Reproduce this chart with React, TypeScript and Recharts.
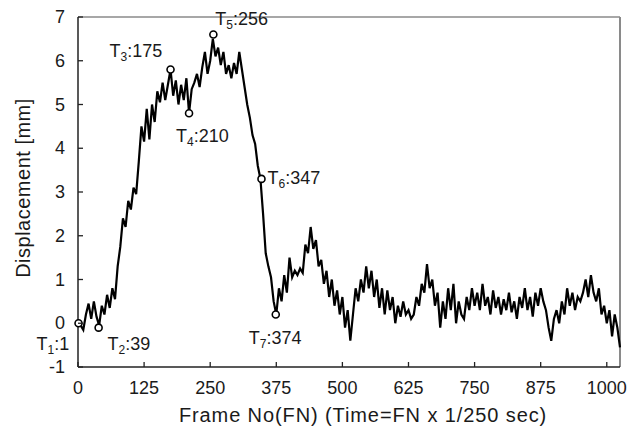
import React from "react";
import {
  ComposedChart,
  Line,
  Scatter,
  XAxis,
  YAxis,
  ReferenceLine,
  Label,
} from "recharts";

// one sample every 5 frames
const FRAME_STEP = 5;
const displacement = [
  0.0, -0.05, -0.15, 0.2, 0.45, 0.1, 0.5, 0.15, -0.05, 0.4,
  0.2, 0.65, 0.35, 0.8, 0.55, 1.3, 1.75, 2.4, 2.2, 2.8,
  2.6, 3.1, 2.95, 3.7, 4.5, 4.15, 4.9, 4.2, 5.0, 4.6,
  5.3, 5.05, 5.5, 5.1, 5.45, 5.8, 5.2, 5.55, 5.0, 5.45,
  5.1, 5.6, 4.8, 5.35, 5.5, 5.7, 5.4, 5.85, 6.2, 5.7,
  6.0, 6.5, 6.1, 6.3, 5.9, 6.2, 5.7, 5.9, 5.6, 5.95,
  5.7, 6.2, 5.8, 5.4, 5.0, 4.7, 4.3, 4.1, 3.6, 3.3,
  2.5, 1.6, 1.3, 1.05, 0.5, 0.2, 0.8, 0.5, 1.1, 0.7,
  1.5, 1.05, 1.2, 1.1, 1.25, 1.15, 1.8, 1.6, 2.2, 1.7,
  1.9, 1.3, 1.45, 0.9, 1.2, 0.6, 1.0, 0.4, 0.75, 0.2,
  0.6, -0.1, 0.3, -0.4, 0.2, 0.8, 0.5, 1.0, 0.7, 1.3,
  0.8, 1.2, 0.6, 1.0, 0.35, 0.8, 0.2, 0.75, 0.3, 0.6,
  0.0, 0.4, 0.15, 0.5, 0.2, 0.3, 0.1, 0.2, 0.6, 0.4,
  0.9, 0.7, 1.35, 0.8, 1.0, 0.4, 0.7, -0.1, 0.5, 0.1,
  0.8, 0.3, 0.9, 0.0, 0.5, 0.2, 0.1, 0.6, 0.3, 0.8,
  0.4, 0.7, 0.3, 0.9, 0.4, 0.6, 0.2, 0.75, 0.35, 0.6,
  0.2, 0.55, 0.3, 0.7, 0.25, 0.5, 0.1, 0.6, 0.35, 0.8,
  0.3, 0.6, 0.15, 0.7, 0.4, 0.8, 0.5, 0.3, -0.1, -0.4,
  0.1, 0.3, 0.0, 0.5, 0.2, 0.8, 0.4, 0.7, 0.3, 0.6,
  0.5, 0.7, 1.0, 0.6, 1.1, 0.7, 0.5, 0.8, 0.2, 0.4,
  0.0, 0.3, -0.3, 0.2, -0.1, -0.55,
];

const frameTicks = [0, 125, 250, 375, 500, 625, 750, 875, 1000];
const mmTicks = [-1, 0, 1, 2, 3, 4, 5, 6, 7];

const markerIds = [1, 2, 3, 4, 5, 6, 7];
const markerFrames = [1, 39, 175, 210, 256, 347, 374];
const markerValues = [0, -0.1, 5.8, 4.8, 6.6, 3.3, 0.2];

const series = displacement.map((d, i) => ({ fn: i * FRAME_STEP, d }));
const markers = markerIds.map((id, i) => ({
  id,
  fn: markerFrames[i],
  d: markerValues[i],
}));

// where each T label sits relative to its circle (dx to text start, dy to text middle)
const labelOffset: Record<number, [number, number]> = {
  1: [-42, 21],
  2: [9, 16],
  3: [-61, -19],
  4: [-13, 23],
  5: [2, -16],
  6: [6, -1],
  7: [-27, 23],
};

const FONT = "'Liberation Sans', Arial, Helvetica, sans-serif";
const INK = "#1a1a1a";
const X_GAP = 21;
const Y_GAP = 13;
const TICK_LEN = 5;

function MarkerShape(props: any) {
  const { cx, cy, payload } = props;
  const [dx, dy] = labelOffset[payload.id];
  return (
    <g>
      <circle cx={cx} cy={cy} r={3.5} fill="#fff" stroke="#000" strokeWidth={1.6} />
      <text x={cx + dx} y={cy + dy + 6} fontSize={18} fontFamily={FONT} fill={INK}>
        <tspan>T</tspan>
        <tspan fontSize={12} dy={4}>
          {payload.id}
        </tspan>
        <tspan dy={-4}>:{payload.fn}</tspan>
      </text>
    </g>
  );
}

// inward tick mark + label
function XTick(props: any) {
  const { x, y, payload } = props;
  const axisY = y - X_GAP;
  return (
    <g>
      <line x1={x} y1={axisY} x2={x} y2={axisY - TICK_LEN} stroke="#222" strokeWidth={1.3} />
      <text x={x} y={y} textAnchor="middle" dominantBaseline="central" fontSize={18} fontFamily={FONT} fill={INK}>
        {payload.value}
      </text>
    </g>
  );
}

function YTick(props: any) {
  const { x, y, payload } = props;
  const axisX = x + Y_GAP;
  return (
    <g>
      <line x1={axisX} y1={y} x2={axisX + TICK_LEN} y2={y} stroke="#222" strokeWidth={1.3} />
      <text x={x} y={y} textAnchor="end" dominantBaseline="central" fontSize={18} fontFamily={FONT} fill={INK}>
        {payload.value}
      </text>
    </g>
  );
}

function XTitle(props: any) {
  const { x, y, width } = props.viewBox;
  return (
    <text
      x={x + width / 2 + 14}
      y={y + 55}
      textAnchor="middle"
      fontSize={20}
      letterSpacing={0.9}
      fontFamily={FONT}
      fill={INK}
    >
      Frame No(FN) (Time=FN x 1/250 sec)
    </text>
  );
}

function YTitle(props: any) {
  const { y, height } = props.viewBox;
  const cx = 23;
  const cy = y + height / 2 - 4;
  return (
    <text
      x={cx}
      y={cy}
      textAnchor="middle"
      dominantBaseline="central"
      transform={`rotate(-90, ${cx}, ${cy})`}
      fontSize={20}
      letterSpacing={0.5}
      fontFamily={FONT}
      fill={INK}
    >
      Displacement [mm]
    </text>
  );
}

export default function App() {
  return (
    <div style={{ position: "absolute", left: 0, top: 0, background: "#fff" }}>
      <ComposedChart
        width={639}
        height={430}
        data={series}
        margin={{ top: 17, right: 19, left: 0, bottom: 0 }}
      >
        <XAxis
          dataKey="fn"
          type="number"
          domain={[0, 1025]}
          ticks={frameTicks}
          height={63}
          tickLine={false}
          tickSize={0}
          tickMargin={X_GAP}
          stroke="#222"
          strokeWidth={1.5}
          tick={XTick}
        >
          <Label content={XTitle} />
        </XAxis>
        <YAxis
          type="number"
          domain={[-1, 7]}
          ticks={mmTicks}
          width={78}
          tickLine={false}
          tickSize={0}
          tickMargin={Y_GAP}
          stroke="#222"
          strokeWidth={1.5}
          tick={YTick}
        >
          <Label content={YTitle} />
        </YAxis>
        <ReferenceLine y={7} stroke="#8a8a8a" strokeWidth={1.5} />
        <ReferenceLine x={1025} stroke="#8a8a8a" strokeWidth={2} />
        <Line
          dataKey="d"
          type="linear"
          stroke="#000"
          strokeWidth={2.2}
          dot={false}
          isAnimationActive={false}
        />
        <Scatter
          data={markers}
          dataKey="d"
          shape={MarkerShape}
          isAnimationActive={false}
        />
      </ComposedChart>
    </div>
  );
}
